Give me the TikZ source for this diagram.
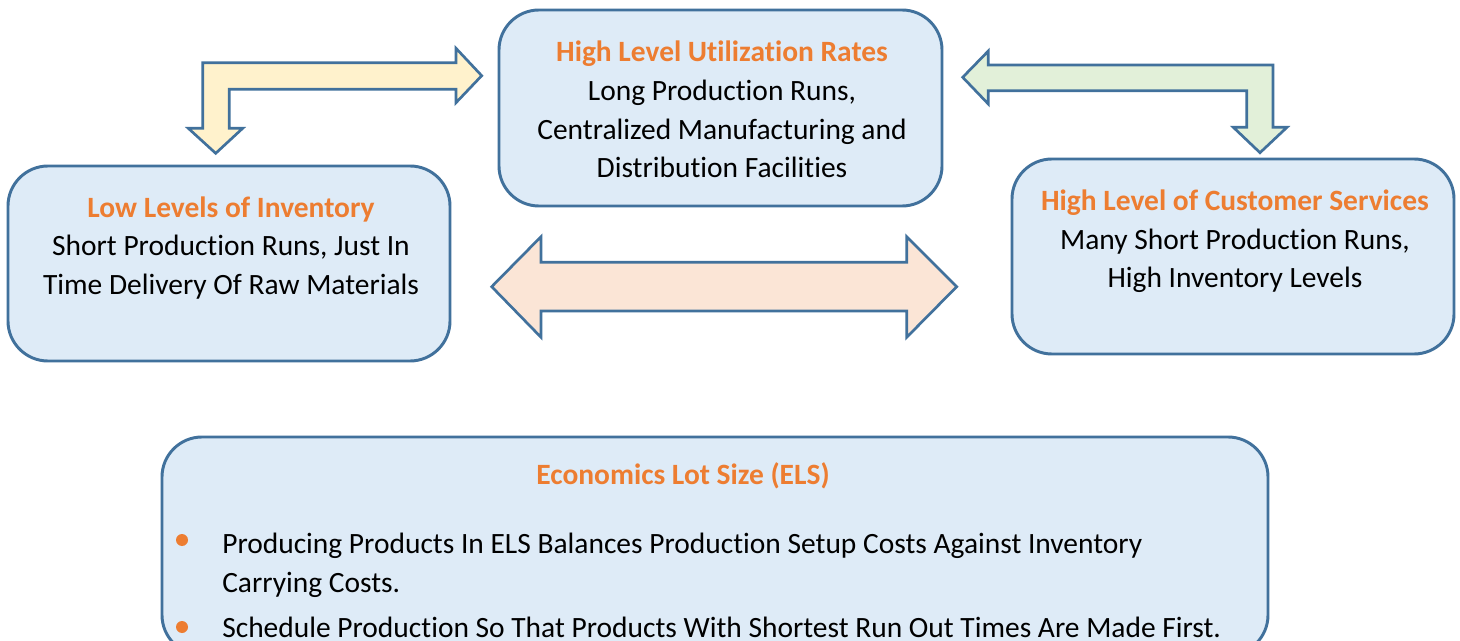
\documentclass[tikz,border=0pt]{standalone}
\usepackage{fontspec}
\setmainfont{Carlito}[Ligatures=NoCommon]
\definecolor{boxfill}{HTML}{DEEBF7}
\definecolor{boxline}{HTML}{41719C}
\definecolor{ttl}{HTML}{ED7D31}
\definecolor{yel}{HTML}{FFF2CC}
\definecolor{grn}{HTML}{E2F0D9}
\definecolor{org}{HTML}{FBE5D6}
\begin{document}
\begin{tikzpicture}[x=0.75pt,y=-0.75pt,
  boxst/.style={draw=boxline, fill=boxfill, line width=2.2pt, rounded corners=30pt, inner sep=0pt},
  arrowst/.style={draw=boxline, line width=2pt, line join=miter},
  txt/.style={anchor=base, inner sep=0pt, font=\fontsize{22.1}{26}\selectfont},
  ttltxt/.style={txt, text=ttl, font=\fontsize{22.1}{26}\selectfont\bfseries},
  ltxt/.style={txt, anchor=base west},
  bul/.style={circle, fill=ttl, minimum size=9pt, inner sep=0pt}]
\useasboundingbox (0,0) rectangle (1460,641);
\clip (0,0) rectangle (1460,641);
\fill[white] (0,0) rectangle (1460,641);

% boxes
\node[boxst, minimum width=332.25pt, minimum height=147pt] (tbox) at (720.5,108) {};
\node[boxst, minimum width=331.5pt, minimum height=146.25pt] (lbox) at (229,263.5) {};
\node[boxst, minimum width=331.5pt, minimum height=146.25pt] (rbox) at (1233,256.5) {};
\node[boxst, minimum width=829.5pt, minimum height=163.5pt] (bbox) at (715,546) {};

% arrows
\filldraw[arrowst, fill=yel] (202.7,62.7) -- (456,62.7) -- (456,48.3) -- (481.7,75.7) -- (456,102.7) -- (456,89.3) -- (229.3,89.3) -- (229.3,128.3) -- (242.7,128.3) -- (215.7,153.3) -- (188.3,128.3) -- (202.7,128.3) -- cycle;
\filldraw[arrowst, fill=grn] (962.7,77.3) -- (988.3,51) -- (988.3,65) -- (1273,65) -- (1273,127.3) -- (1287,127.3) -- (1260,152.7) -- (1233.3,127.3) -- (1246.7,127.3) -- (1246.7,90.7) -- (988.3,90.7) -- (988.3,104) -- cycle;
\filldraw[arrowst, fill=org] (491.7,286.7) -- (541,236.7) -- (541,262.3) -- (906.7,262.3) -- (906.7,236.7) -- (956.7,286.7) -- (906.7,337.3) -- (906.7,311) -- (541,311) -- (541,337.3) -- cycle;

% top box text
\node[ttltxt] (t1) at (722,62) {High Level Utilization Rates};
\node[txt] (t2) at (722,101) {Long Production Runs,};
\node[txt] (t3) at (722,140) {Centralized Manufacturing and};
\node[txt] (t4) at (722,178) {Distribution Facilities};

% left box text
\node[ttltxt] (l1) at (231,218) {Low Levels of Inventory};
\node[txt] (l2) at (231,256) {Short Production Runs, Just In};
\node[txt] (l3) at (231,295) {Time Delivery Of Raw Materials};

% right box text
\node[ttltxt] (r1) at (1235,211) {High Level of Customer Services};
\node[txt] (r2) at (1235,250) {Many Short Production Runs,};
\node[txt] (r3) at (1235,288) {High Inventory Levels};

% bottom box text
\node[ttltxt] (b0) at (683,484) {Economics Lot Size (ELS)};
\node[bul] (d1) at (182,540) {};
\node[ltxt] (b1) at (222,553) {Producing Products In ELS Balances Production Setup Costs Against Inventory};
\node[ltxt] (b2) at (222,592) {Carrying Costs.};
\node[bul] (d2) at (182,627) {};
\node[ltxt] (b3) at (222,637) {Schedule Production So That Products With Shortest Run Out Times Are Made First.};
\end{tikzpicture}
\end{document}
